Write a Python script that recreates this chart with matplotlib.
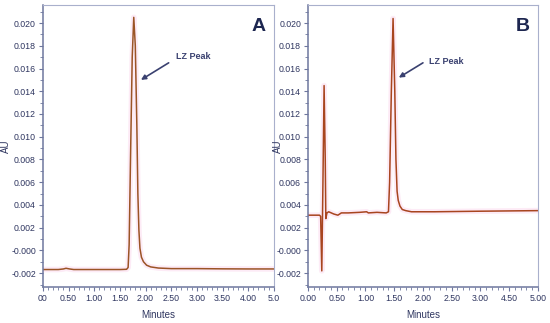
import numpy as np
import matplotlib
matplotlib.use('Agg')
import matplotlib.pyplot as plt
from matplotlib.ticker import MultipleLocator, FixedLocator, FixedFormatter

plt.rcParams['font.family'] = ['Liberation Sans', 'DejaVu Sans']

# Panel A trace (minutes, AU)
a_time = [0.00, 0.30, 0.40, 0.45, 0.52, 0.60, 1.00, 1.50, 1.63, 1.66, 1.68, 1.71, 1.74,
          1.77, 1.80, 1.83, 1.85, 1.87, 1.89, 1.92, 1.96, 2.02, 2.10, 2.25, 2.50,
          3.00, 3.50, 4.00, 4.50]
a_au = [-0.00168, -0.00168, -0.00163, -0.00157, -0.00163, -0.00168, -0.00168, -0.00168,
        -0.00166, -0.0015, 0.0005, 0.009, 0.017, 0.0205, 0.018, 0.011, 0.005, 0.0018,
        0.0002, -0.0006, -0.0010, -0.0013, -0.00145, -0.00155, -0.0016, -0.0016,
        -0.00162, -0.00163, -0.00163]

# Panel B trace (minutes, AU)
b_time = [0.00, 0.20, 0.22, 0.24, 0.26, 0.28, 0.30, 0.31, 0.33, 0.36, 0.45, 0.52, 0.58,
          0.70, 0.90, 1.02, 1.05, 1.20, 1.36, 1.40, 1.42, 1.45, 1.48, 1.51, 1.53, 1.55,
          1.57, 1.60, 1.64, 1.70, 1.80, 2.20, 3.00, 4.00]
b_au = [0.0031, 0.0031, 0.0030, -0.0018, 0.006, 0.0145, 0.008, 0.0028, 0.0033, 0.0034,
        0.0032, 0.0031, 0.0033, 0.0033, 0.00335, 0.0034, 0.0033, 0.00335, 0.0033, 0.0034,
        0.006, 0.014, 0.0204, 0.014, 0.008, 0.0052, 0.0044, 0.0039, 0.0036, 0.0035,
        0.0034, 0.0034, 0.00345, 0.0035]

# tick labels as printed on the original axes
a_xlabels = ['00', '0.50', '1.00', '1.50', '2.00', '2.50', '3.00', '3.50', '4.00', '5.0']
b_xlabels = ['0.00', '0.50', '1.00', '1.50', '2.00', '2.50', '3.00', '4.50', '5.00']
y_values = [-0.002, 0.000, 0.002, 0.004, 0.006, 0.008, 0.010, 0.012, 0.014, 0.016, 0.018, 0.020]
y_labels = ['-0.002', '-0.000', '0.002', '0.004', '0.006', '0.008', '0.010', '0.012',
            '0.014', '0.016', '0.018', '0.020']

navy = '#2f3660'
spine_dark = '#6e779e'
spine_light = '#a9b0cc'

fig = plt.figure(figsize=(5.5, 3.23), dpi=100)
axA = fig.add_axes([0.078, 0.111, 0.42, 0.874])
axB = fig.add_axes([0.560, 0.111, 0.418, 0.874])

panels = [
    (axA, a_time, a_au, a_xlabels, '#9b5426', 'A', (2.6, 0.0171), (2.45, 0.0165), (1.91, 0.0150), -0.138),
    (axB, b_time, b_au, b_xlabels, '#a8451f', 'B', (2.1, 0.0166), (2.0, 0.0165), (1.58, 0.0152), -0.11),
]

for ax, t, au, xlab, col, letter, txt_pos, arr_start, arr_end, au_x in panels:
    # faint pink glow under the trace
    ax.plot(t, au, color='#fdebf6', lw=4, solid_capstyle='butt', zorder=1)
    ax.plot(t, au, color=col, lw=1.1, zorder=2)

    xmax = 0.5 * (len(xlab) - 1)
    ax.set_xlim(0, xmax)
    ax.set_ylim(-0.00323, 0.0216)

    ax.xaxis.set_major_locator(FixedLocator(np.arange(len(xlab)) * 0.5))
    ax.xaxis.set_major_formatter(FixedFormatter(xlab))
    ax.xaxis.set_minor_locator(MultipleLocator(0.1))
    ax.yaxis.set_major_locator(FixedLocator(y_values))
    ax.yaxis.set_major_formatter(FixedFormatter(y_labels))
    ax.yaxis.set_minor_locator(MultipleLocator(0.001))

    ax.tick_params(which='major', length=3, width=0.8, color=spine_dark,
                   labelsize=6.3, labelcolor=navy, pad=2)
    ax.tick_params(which='minor', length=2, width=0.6, color=spine_dark)

    for s in ['left', 'bottom']:
        ax.spines[s].set_color(spine_dark)
        ax.spines[s].set_linewidth(1.1)
    for s in ['top', 'right']:
        ax.spines[s].set_color(spine_light)
        ax.spines[s].set_linewidth(0.8)

    ax.set_xlabel('Minutes', fontsize=7, color=navy, labelpad=5)
    ax.set_ylabel('AU', fontsize=7, color=navy)
    ax.yaxis.set_label_coords(au_x, 0.5)

    ax.text(0.965, 0.955, letter, transform=ax.transAxes, ha='right', va='top',
            fontsize=14, fontweight='bold', color='#1d2650')
    ax.text(txt_pos[0], txt_pos[1], 'LZ Peak', fontsize=6.5, fontweight='bold',
            color='#3a4170', va='center', ha='left')
    ax.annotate('', xy=arr_end, xytext=arr_start,
                arrowprops=dict(arrowstyle='-|>', color='#3a4170', lw=1.2,
                                mutation_scale=7, shrinkA=0, shrinkB=0))

fig.savefig('out.png', dpi=100)
